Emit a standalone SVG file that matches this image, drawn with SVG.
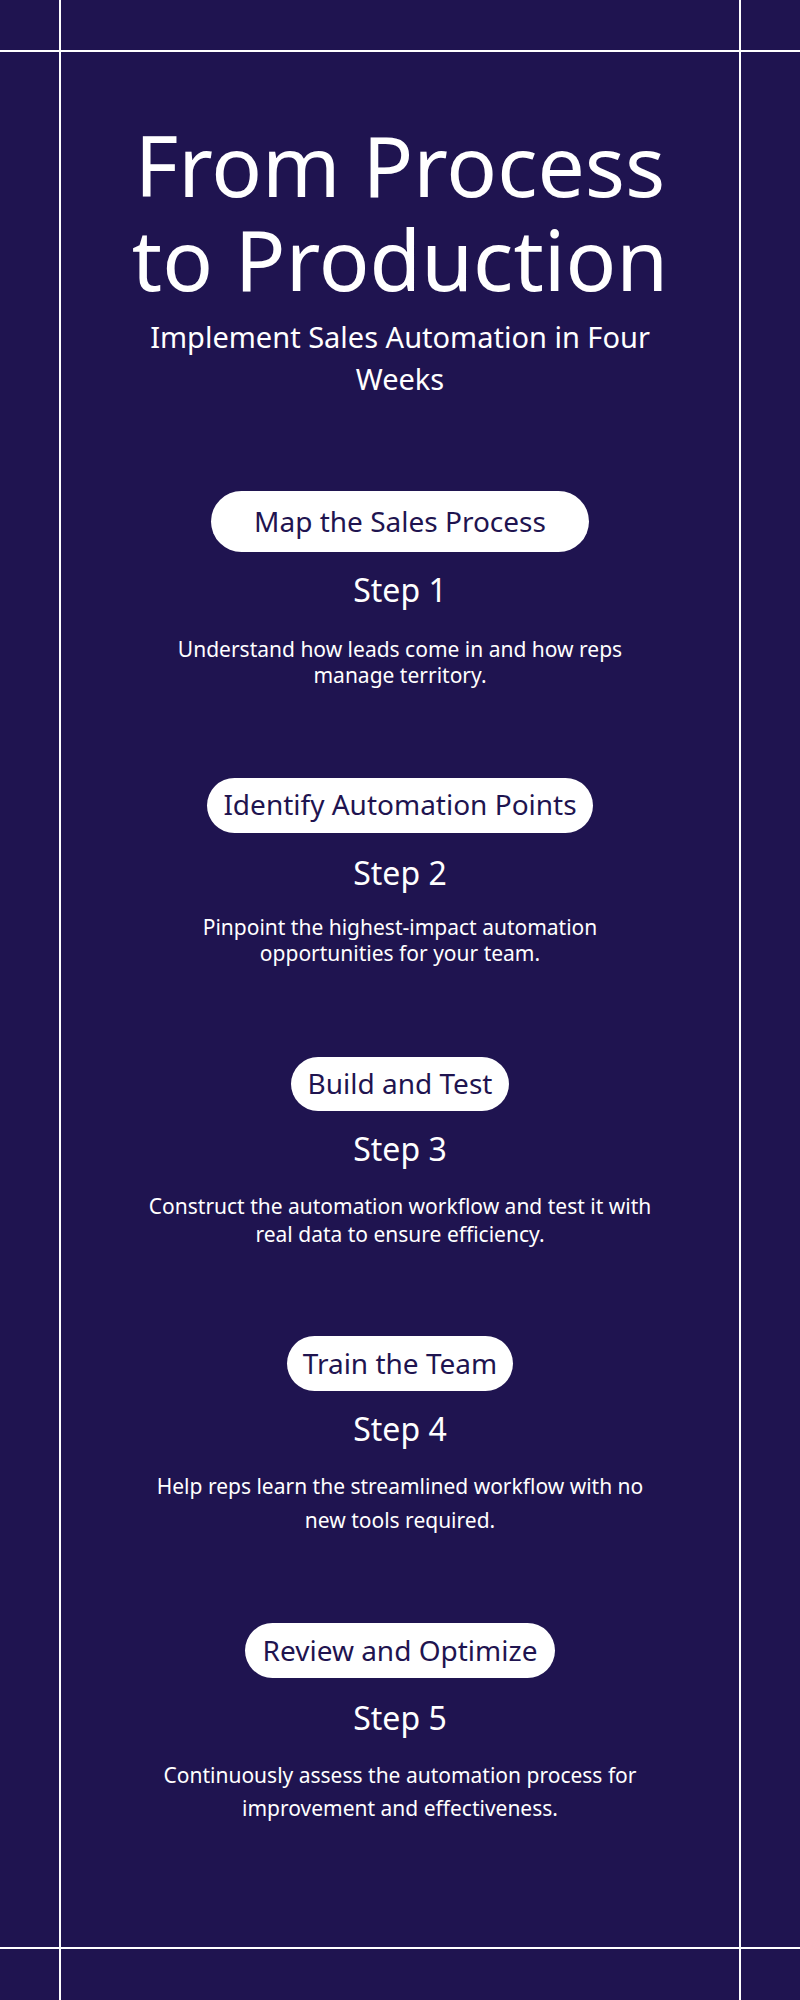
<svg xmlns="http://www.w3.org/2000/svg" width="800" height="2000" viewBox="0 0 800 2000">
<style>
text{font-family:"Noto Sans","Open Sans",sans-serif;fill:#fff;text-anchor:middle}
.pill{fill:#fff}
.pt{fill:#1f1450;font-size:28px}
.st{font-size:32px}
.d{font-size:21px}
.ln{stroke:#fff;stroke-width:2}
</style>
<rect width="800" height="2000" fill="#1f1450"/>
<g id="frame">
<line class="ln" x1="0" y1="51" x2="800" y2="51"/>
<line class="ln" x1="0" y1="1948" x2="800" y2="1948"/>
<line class="ln" x1="60" y1="0" x2="60" y2="2000"/>
<line class="ln" x1="740" y1="0" x2="740" y2="2000"/>
</g>
<g id="title">
<text x="400" y="197" font-size="84">From Process</text>
<text x="400" y="291" font-size="84">to Production</text>
<text x="400" y="348" font-size="29">Implement Sales Automation in Four</text>
<text x="400" y="390" font-size="29">Weeks</text>
</g>
<g id="step1">
<rect class="pill" x="211" y="491" width="378" height="61" rx="30.5"/>
<text class="pt" x="400" y="532">Map the Sales Process</text>
<text class="st" x="400" y="602">Step 1</text>
<text class="d" x="400" y="657">Understand how leads come in and how reps</text>
<text class="d" x="400" y="683">manage territory.</text>
</g>
<g id="step2">
<rect class="pill" x="207" y="778" width="386" height="55" rx="27.5"/>
<text class="pt" x="400" y="815">Identify Automation Points</text>
<text class="st" x="400" y="885">Step 2</text>
<text class="d" x="400" y="935">Pinpoint the highest-impact automation</text>
<text class="d" x="400" y="961">opportunities for your team.</text>
</g>
<g id="step3">
<rect class="pill" x="291" y="1057" width="218" height="54" rx="27"/>
<text class="pt" x="400" y="1094">Build and Test</text>
<text class="st" x="400" y="1161">Step 3</text>
<text class="d" x="400" y="1214">Construct the automation workflow and test it with</text>
<text class="d" x="400" y="1242">real data to ensure efficiency.</text>
</g>
<g id="step4">
<rect class="pill" x="287" y="1336" width="226" height="55" rx="27.5"/>
<text class="pt" x="400" y="1374">Train the Team</text>
<text class="st" x="400" y="1441">Step 4</text>
<text class="d" x="400" y="1494">Help reps learn the streamlined workflow with no</text>
<text class="d" x="400" y="1528">new tools required.</text>
</g>
<g id="step5">
<rect class="pill" x="245" y="1623" width="310" height="55" rx="27.5"/>
<text class="pt" x="400" y="1661">Review and Optimize</text>
<text class="st" x="400" y="1730">Step 5</text>
<text class="d" x="400" y="1783">Continuously assess the automation process for</text>
<text class="d" x="400" y="1816">improvement and effectiveness.</text>
</g>
<g id="connectors"/>
</svg>
